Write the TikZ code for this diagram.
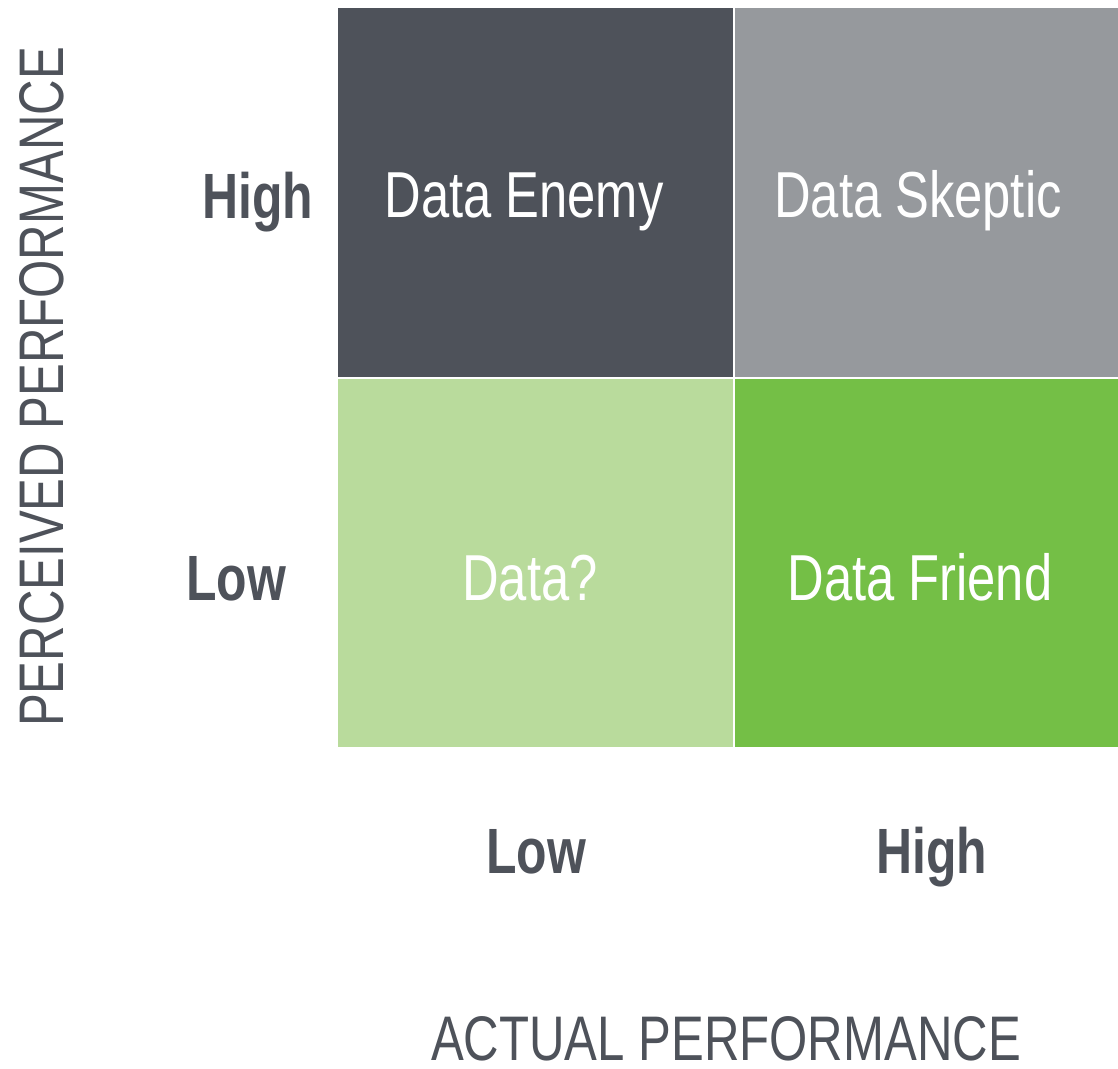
\documentclass[tikz,border=0pt]{standalone}
\usepackage{fontspec}
\setmainfont{Liberation Sans}[FakeStretch=0.78]
\definecolor{enemy}{HTML}{4E525A}
\definecolor{skeptic}{HTML}{96999D}
\definecolor{unknown}{HTML}{B9DB9C}
\definecolor{friend}{HTML}{74BF46}
\definecolor{labelgray}{HTML}{4E525A}
\tikzset{
  quad/.style={fill=#1, draw=none},
  quadtext/.style={text=white, anchor=base, inner sep=0pt, font=\fontsize{65}{65}\selectfont},
  levellabel/.style={text=labelgray, anchor=base, inner sep=0pt, font=\fontsize{64}{64}\selectfont\bfseries},
  axislabel/.style={text=labelgray, anchor=base, inner sep=0pt, text depth=0pt, font=\fontsize{63}{63}\selectfont}
}
\begin{document}
\begin{tikzpicture}[x=1pt,y=-1pt]
\useasboundingbox (0,0) rectangle (1118,1068);
\fill[white] (0,0) rectangle (1118,1068);
% quadrants
\fill[quad=enemy]   (338,8)   rectangle (733,377);
\fill[quad=skeptic] (735,8)   rectangle (1118,377);
\fill[quad=unknown] (338,379) rectangle (733,747);
\fill[quad=friend]  (735,379) rectangle (1118,747);
% quadrant texts
\node[quadtext] (qe) at (524,217) {Data Enemy};
\node[quadtext] (qs) at (918,217) {Data Skeptic};
\node[quadtext] (qu) at (530,600) {Data?};
\node[quadtext] (qf) at (920,600) {Data Friend};
% level labels
\node[levellabel] (ph) at (258,218) {High};
\node[levellabel] (pl) at (236,600) {Low};
\node[levellabel] (al) at (536,873) {Low};
\node[levellabel] (ah) at (932,873) {High};
% axis labels
\node[axislabel] (ax) at (726,1060) {ACTUAL PERFORMANCE};
\node[axislabel, rotate=90] (ay) at (63,387) {PERCEIVED PERFORMANCE};
\end{tikzpicture}
\end{document}
